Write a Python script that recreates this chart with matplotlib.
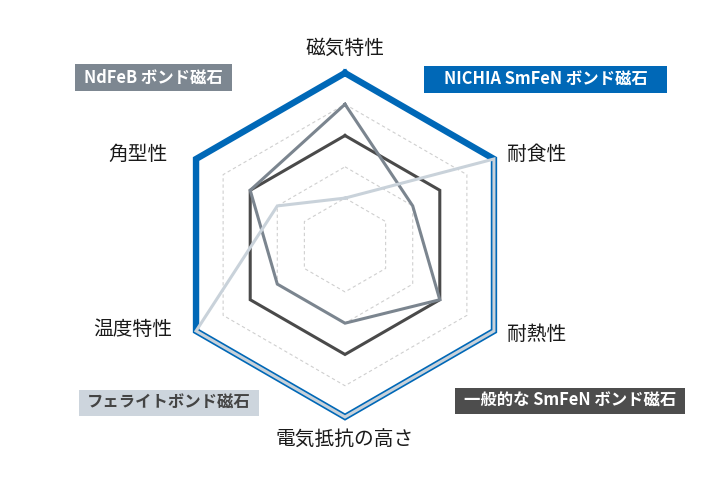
import numpy as np
import matplotlib
matplotlib.use('Agg')
import matplotlib.pyplot as plt
from matplotlib.patches import Rectangle

plt.rcParams['font.family'] = ['Noto Sans CJK JP', 'DejaVu Sans']

# axes, clockwise from top
axes_labels = ['磁気特性', '耐食性', '耐熱性', '電気抵抗の高さ', '温度特性', '角型性']

# scores per magnet type (1-5)
nichia = [5, 5, 5, 5, 5, 5]
smfen = [3, 3, 3, 3, 3, 3]
ndfeb = [4, 2, 3, 2, 2, 3]
ferrite = [1, 5, 5, 5, 5, 2]
grid_levels = [1, 2, 3, 4, 5]

W, H = 718, 478
fig = plt.figure(figsize=(W / 100, H / 100), dpi=100)

# polar axes placed so the hexagon centre sits at (345, 245) px
cx, cy, r5 = 345, 245, 172
rmin, rmax = -0.5, 5.5
half = r5 * (rmax - rmin) / (5 - rmin)
ax = fig.add_axes([(cx - half) / W, (H - cy - half) / H, 2 * half / W, 2 * half / H],
                  projection='polar')
ax.set_theta_zero_location('N')
ax.set_theta_direction(-1)
ax.set_ylim(rmin, rmax)
ax.axis('off')

n = len(axes_labels)
theta = np.arange(n) * 2 * np.pi / n
theta_c = np.append(theta, theta[0])


def closed(vals):
    return np.append(vals, vals[0])


for lv in grid_levels:
    ax.plot(theta_c, [lv] * (n + 1), color='#cfcfcf', lw=0.8, dashes=(3, 2.5),
            zorder=1, clip_on=False)

ax.plot(theta_c, closed(nichia), color='#0068b7', lw=4.6, zorder=2,
        solid_joinstyle='miter', clip_on=False)
ax.plot(theta_c, closed(smfen), color='#4a4a4a', lw=2.2, zorder=3,
        solid_joinstyle='miter', clip_on=False)
ax.plot(theta_c, closed(ndfeb), color='#7b858f', lw=2.2, zorder=4,
        solid_joinstyle='miter', clip_on=False)
ax.plot(theta_c, closed(ferrite), color='#c9d2da', lw=2.2, zorder=5,
        solid_joinstyle='miter', clip_on=False)

# axis labels, offset from the outer vertices (px)
label_offsets = [(0, 25, 'center'), (13, 5, 'left'), (13, -3, 'left'),
                 (0, -23, 'center'), (-24, 2, 'right'), (-28, 5, 'right')]
for t, lab, (dx, dy, ha) in zip(theta, axes_labels, label_offsets):
    ax.annotate(lab, xy=(t, 5), xytext=(dx * 0.72, dy * 0.72),
                textcoords='offset points', ha=ha, va='center',
                fontsize=14.2, color='#1a1a1a', annotation_clip=False)

# legend boxes (px: x0, y0, x1, y1)
legend_items = [
    ('NdFeB ボンド磁石', (75, 64, 232, 91), '#7d8791', 'white'),
    ('NICHIA SmFeN ボンド磁石', (424, 66, 667, 93), '#0068b7', 'white'),
    ('フェライトボンド磁石', (79, 390, 259, 416), '#cdd5dd', '#444444'),
    ('一般的な SmFeN ボンド磁石', (455, 388, 685, 414), '#4d4d4d', 'white'),
]
for text, (x0, y0, x1, y1), bg, fg in legend_items:
    fig.patches.append(Rectangle((x0 / W, 1 - y1 / H), (x1 - x0) / W, (y1 - y0) / H,
                                 transform=fig.transFigure, facecolor=bg,
                                 edgecolor='none'))
    fig.text((x0 + x1) / 2 / W, 1 - (y0 + y1) / 2 / H, text, ha='center', va='center',
             fontsize=11.8, fontweight='bold', color=fg)

fig.savefig('out.png', dpi=100)
